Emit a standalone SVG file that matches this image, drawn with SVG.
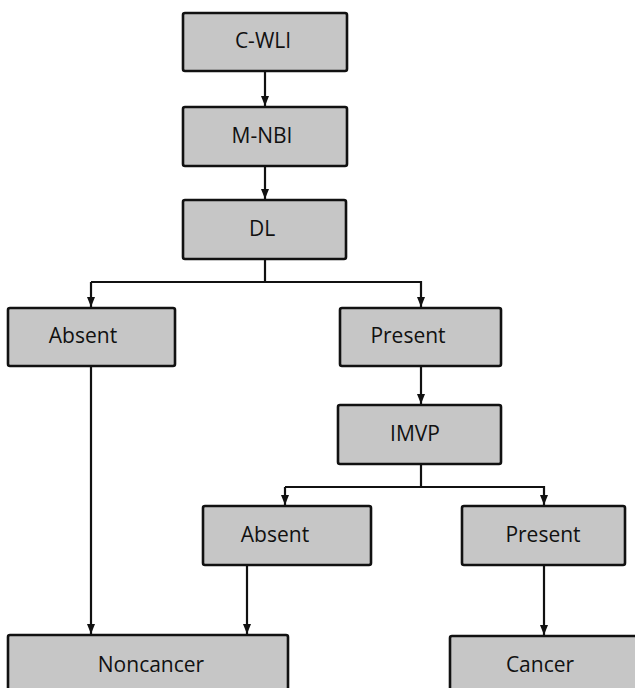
<svg xmlns="http://www.w3.org/2000/svg" width="635" height="688" viewBox="0 0 635 688">
<defs>
<style>
.box{fill:#c6c6c6;stroke:#111;stroke-width:2.6}
.lbl{font-family:"Open Sans","Noto Sans",sans-serif;font-size:21px;font-weight:500;fill:#111;text-anchor:middle}
.con{fill:none;stroke:#111;stroke-width:2.2}
</style>
<marker id="ah" markerWidth="10" markerHeight="10" viewBox="0 0 10 10" refX="10" refY="5" orient="auto" markerUnits="userSpaceOnUse">
<path d="M0,1 L10,5 L0,9 Z" fill="#111"/>
</marker>
</defs>
<rect width="635" height="688" fill="#fff"/>
<g id="connectors">
<line class="con" x1="265" y1="71" x2="265" y2="106" marker-end="url(#ah)"/>
<line class="con" x1="265" y1="166" x2="265" y2="199" marker-end="url(#ah)"/>
<line class="con" x1="265" y1="259" x2="265" y2="282"/>
<polyline class="con" points="91,282 421,282 421,307" marker-end="url(#ah)"/>
<line class="con" x1="91" y1="282" x2="91" y2="307" marker-end="url(#ah)"/>
<line class="con" x1="91" y1="366" x2="91" y2="634" marker-end="url(#ah)"/>
<line class="con" x1="421" y1="366" x2="421" y2="404" marker-end="url(#ah)"/>
<line class="con" x1="421" y1="464" x2="421" y2="487"/>
<polyline class="con" points="285,487 544,487 544,505" marker-end="url(#ah)"/>
<line class="con" x1="285" y1="487" x2="285" y2="505" marker-end="url(#ah)"/>
<line class="con" x1="247" y1="565" x2="247" y2="634" marker-end="url(#ah)"/>
<line class="con" x1="544" y1="565" x2="544" y2="635" marker-end="url(#ah)"/>
</g>
<g id="n-cwli"><rect class="box" x="183" y="13" width="164" height="58" rx="2"/><text class="lbl" x="263" y="48">C-WLI</text></g>
<g id="n-mnbi"><rect class="box" x="183" y="107" width="164" height="59" rx="2"/><text class="lbl" x="262" y="143">M-NBI</text></g>
<g id="n-dl"><rect class="box" x="183" y="200" width="163" height="59" rx="2"/><text class="lbl" x="262" y="236">DL</text></g>
<g id="n-absent1"><rect class="box" x="8" y="308" width="167" height="58" rx="2"/><text class="lbl" x="83" y="343">Absent</text></g>
<g id="n-present1"><rect class="box" x="340" y="308" width="161" height="58" rx="2"/><text class="lbl" x="408" y="343">Present</text></g>
<g id="n-imvp"><rect class="box" x="338" y="405" width="163" height="59" rx="2"/><text class="lbl" x="415" y="441">IMVP</text></g>
<g id="n-absent2"><rect class="box" x="203" y="506" width="168" height="59" rx="2"/><text class="lbl" x="275" y="542">Absent</text></g>
<g id="n-present2"><rect class="box" x="462" y="506" width="163" height="59" rx="2"/><text class="lbl" x="543" y="542">Present</text></g>
<g id="n-noncancer"><rect class="box" x="8" y="635" width="280" height="62" rx="2"/><text class="lbl" x="151" y="672">Noncancer</text></g>
<g id="n-cancer"><rect class="box" x="450" y="636" width="195" height="62" rx="2"/><text class="lbl" x="540" y="672">Cancer</text></g>
</svg>
